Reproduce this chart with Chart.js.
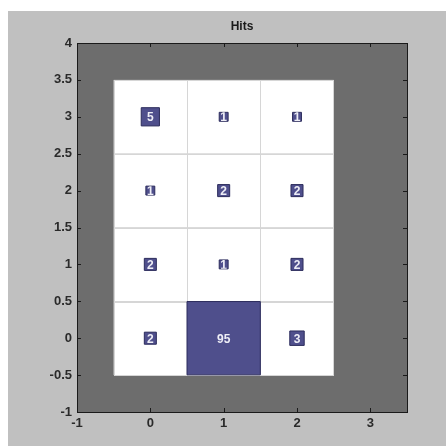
<!DOCTYPE html>
<html>
<head>
<meta charset="utf-8">
<script src="https://cdn.jsdelivr.net/npm/chart.js@4"></script>
<style>
  html, body { margin: 0; padding: 0; background: #fff; }
  #wrap { width: 446px; height: 446px; }
</style>
</head>
<body>
<div id="wrap"><canvas id="chart" width="446" height="446"></canvas></div>
<script>
// SOM hits grid: 3 columns x 4 rows, one hit count per neuron
const cols = [0, 1, 2];
const rows = [0, 1, 2, 3];
const hitsRow0 = [2, 95, 3];
const hitsRow1 = [2, 1, 2];
const hitsRow2 = [1, 2, 2];
const hitsRow3 = [5, 1, 1];
const hitsByRow = [hitsRow0, hitsRow1, hitsRow2, hitsRow3];

const xTicks = [-1, 0, 1, 2, 3];
const yTicks = [-1, -0.5, 0, 0.5, 1, 1.5, 2, 2.5, 3, 3.5, 4];
const titleText = "Hits";

const maxHits = Math.max(...hitsByRow.flat());

const points = [];
rows.forEach((r, ri) => cols.forEach((c, ci) => {
  points.push({ x: c, y: r, hits: hitsByRow[ri][ci] });
}));

const FONT = "'Liberation Sans', Arial, sans-serif";

// half-side of a hit square in pixels, from the x scale
function halfSide(chart, hits) {
  const sx = chart.scales.x;
  const unit = sx.getPixelForValue(1) - sx.getPixelForValue(0);
  const s = Math.sqrt(hits / maxHits);
  return s >= 1 ? unit / 2 : unit * s / 2 + 0.7;
}

const somPlugin = {
  id: "som",
  beforeDraw(chart) {
    const { ctx, chartArea: a, scales: { x, y } } = chart;
    ctx.save();
    // figure background
    ctx.fillStyle = "#fff";
    ctx.fillRect(0, 0, chart.width, chart.height);
    ctx.fillStyle = "#c0c0c0";
    ctx.fillRect(8, 11, chart.width - 8, chart.height - 11);
    // axes background
    ctx.fillStyle = "#6d6d6d";
    ctx.fillRect(a.left, a.top, a.right - a.left, a.bottom - a.top);
    // neuron cells
    ctx.fillStyle = "#fff";
    ctx.strokeStyle = "#d6d6d6";
    ctx.lineWidth = 1;
    for (const r of rows) for (const c of cols) {
      const x0 = x.getPixelForValue(c - 0.5), x1 = x.getPixelForValue(c + 0.5);
      const y0 = y.getPixelForValue(r + 0.5), y1 = y.getPixelForValue(r - 0.5);
      ctx.fillRect(x0, y0, x1 - x0, y1 - y0);
    }
    for (const r of rows) for (const c of cols) {
      const x0 = x.getPixelForValue(c - 0.5), x1 = x.getPixelForValue(c + 0.5);
      const y0 = y.getPixelForValue(r + 0.5), y1 = y.getPixelForValue(r - 0.5);
      ctx.strokeRect(Math.round(x0) + 0.5, Math.round(y0) + 0.5, Math.round(x1 - x0), Math.round(y1 - y0));
    }
    // title, centred over the axes
    ctx.fillStyle = "#1a1a1a";
    ctx.font = "bold 12px " + FONT;
    ctx.textAlign = "center";
    ctx.textBaseline = "middle";
    ctx.fillText(titleText, (a.left + a.right) / 2, 27);
    ctx.restore();
  },
  afterDatasetsDraw(chart) {
    const { ctx, scales: { x, y } } = chart;
    ctx.save();
    ctx.font = "bold 12px " + FONT;
    ctx.textAlign = "center";
    ctx.textBaseline = "middle";
    ctx.fillStyle = "#eeeef6";
    for (const p of points) {
      const px = x.getPixelForValue(p.x), py = y.getPixelForValue(p.y);
      const h = halfSide(chart, p.hits);
      ctx.save();
      ctx.beginPath();
      ctx.rect(px - h, py - h, 2 * h, 2 * h);
      ctx.clip();
      ctx.fillText(String(p.hits), px, py + 1);
      ctx.restore();
    }
    ctx.restore();
  },
  afterDraw(chart) {
    const { ctx, chartArea: a, scales: { x, y } } = chart;
    ctx.save();
    ctx.strokeStyle = "#1a1a1a";
    ctx.lineWidth = 1;
    ctx.strokeRect(Math.round(a.left) + 0.5, Math.round(a.top) + 0.5, Math.round(a.right - a.left), Math.round(a.bottom - a.top));
    ctx.beginPath();
    for (const v of xTicks) {
      const px = Math.round(x.getPixelForValue(v)) + 0.5;
      ctx.moveTo(px, a.bottom); ctx.lineTo(px, a.bottom - 4);
      ctx.moveTo(px, a.top); ctx.lineTo(px, a.top + 4);
    }
    for (const v of yTicks) {
      const py = Math.round(y.getPixelForValue(v)) + 0.5;
      ctx.moveTo(a.left, py); ctx.lineTo(a.left + 4, py);
      ctx.moveTo(a.right, py); ctx.lineTo(a.right - 4, py);
    }
    ctx.stroke();
    ctx.restore();
  }
};

const tickFont = { family: FONT, size: 13, weight: "bold" };

new Chart(document.getElementById("chart"), {
  type: "scatter",
  data: {
    datasets: [{
      label: titleText,
      data: points,
      pointStyle: "rect",
      backgroundColor: "#4f4f8c",
      borderColor: "#2c2c5c",
      borderWidth: 1,
      pointRadius: ctx => halfSide(ctx.chart, ctx.raw.hits) / Math.SQRT1_2,
      pointHoverRadius: ctx => halfSide(ctx.chart, ctx.raw.hits) / Math.SQRT1_2
    }]
  },
  options: {
    responsive: false,
    animation: false,
    events: [],
    layout: { padding: { left: 0, right: 39, top: 43, bottom: 0 } },
    plugins: {
      legend: { display: false },
      tooltip: { enabled: false },
      title: { display: false }
    },
    scales: {
      x: {
        type: "linear",
        min: -1, max: 3.5,
        grid: { display: false, drawTicks: false },
        border: { display: false },
        ticks: { color: "#2a2a2a", font: tickFont, padding: 4, maxRotation: 0, callback: v => String(v) },
        afterBuildTicks: s => { s.ticks = xTicks.map(v => ({ value: v })); },
        afterFit: s => { s.height = 34; }
      },
      y: {
        type: "linear",
        min: -1, max: 4,
        grid: { display: false, drawTicks: false },
        border: { display: false },
        ticks: { color: "#2a2a2a", font: tickFont, padding: 5, callback: v => String(v) },
        afterBuildTicks: s => { s.ticks = yTicks.map(v => ({ value: v })); },
        afterFit: s => { s.width = 77; }
      }
    }
  },
  plugins: [somPlugin]
});
</script>
</body>
</html>
